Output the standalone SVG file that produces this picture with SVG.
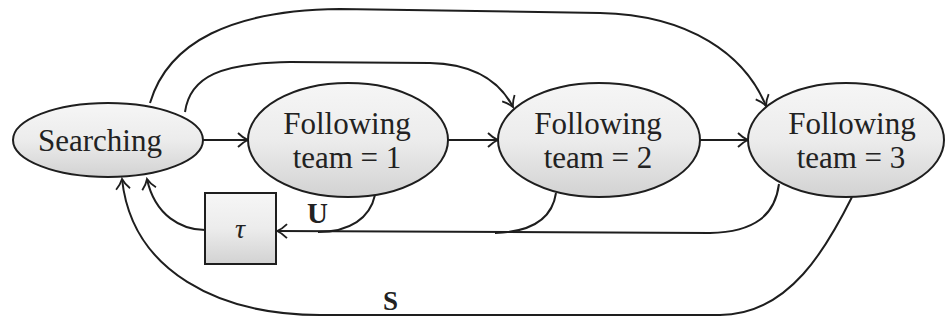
<svg xmlns="http://www.w3.org/2000/svg" width="945" height="320" viewBox="0 0 945 320">
  <style>
    .node { stroke: #1e1e1e; stroke-width: 2; fill: url(#shade); }
    .label { font-size: 31px; fill: #222; text-anchor: middle; }
    .edge { fill: none; stroke: #1e1e1e; stroke-width: 2; }
    .arrow { marker-end: url(#head); }
    .tag { font-weight: bold; fill: #222; }
  </style>
  <defs>
    <linearGradient id="shade" x1="0" y1="0" x2="0" y2="1">
      <stop offset="0" stop-color="#f6f6f6"/>
      <stop offset="0.5" stop-color="#ececec"/>
      <stop offset="1" stop-color="#d2d2d2"/>
    </linearGradient>
    <marker id="head" markerWidth="14" markerHeight="16" refX="12" refY="8" orient="auto" markerUnits="userSpaceOnUse">
      <path d="M2,1 Q7,6 12,8 Q7,10 2,15" fill="none" stroke="#1e1e1e" stroke-width="1.8"/>
    </marker>
  </defs>

  <rect width="945" height="320" fill="#ffffff"/>

  <!-- connectors -->
  <g id="connectors">
    <!-- forward chain -->
    <path class="edge arrow" d="M203,140 L248,140"/>
    <path class="edge arrow" d="M448,140 L498,140"/>
    <path class="edge arrow" d="M700,140 L748,140"/>
    <!-- skip arcs over the top -->
    <path class="edge arrow" d="M150,103 C168,42 232,10 340,9 L600,13 C690,15 745,55 766,106"/>
    <path class="edge arrow" d="M185,112 C190,76 222,63 290,62 L430,63 C475,64 500,82 513,107"/>
    <!-- U: back from each following state into the delay box -->
    <path class="edge" d="M375,195 C370,218 350,232 318,232"/>
    <path class="edge" d="M556,193 C552,220 530,232 495,233"/>
    <path class="edge arrow" d="M779,184 C775,215 755,232 710,233 L277,231"/>
    <!-- delay box back to searching -->
    <path class="edge arrow" d="M205,230 C182,230 155,216 147,179"/>
    <!-- S: from team = 3 back to searching -->
    <path class="edge arrow" d="M852,197 C828,245 790,315 720,315 L320,315 C220,315 132,272 122,179"/>
  </g>

  <g font-family="'Liberation Serif', 'DejaVu Serif', serif">
    <g id="searching">
      <ellipse class="node" cx="108" cy="140" rx="95" ry="37"/>
      <text class="label" x="100" y="151">Searching</text>
    </g>

    <g id="team1">
      <ellipse class="node" cx="348" cy="140" rx="100" ry="57"/>
      <text class="label" x="347" y="134">Following</text>
      <text class="label" x="347" y="168">team = 1</text>
    </g>

    <g id="team2">
      <ellipse class="node" cx="599" cy="140" rx="101" ry="57"/>
      <text class="label" x="598" y="134">Following</text>
      <text class="label" x="598" y="168">team = 2</text>
    </g>

    <g id="team3">
      <ellipse class="node" cx="846" cy="140" rx="98" ry="57"/>
      <text class="label" x="852" y="134">Following</text>
      <text class="label" x="851" y="168">team = 3</text>
    </g>

    <g id="delay">
      <rect class="node" x="205" y="193" width="71" height="71"/>
      <text x="240" y="238" font-style="italic" font-size="28" fill="#222" text-anchor="middle">τ</text>
    </g>

    <text class="tag" x="307" y="223" font-size="29">U</text>
    <text class="tag" x="383" y="310" font-size="27">S</text>
  </g>
</svg>
